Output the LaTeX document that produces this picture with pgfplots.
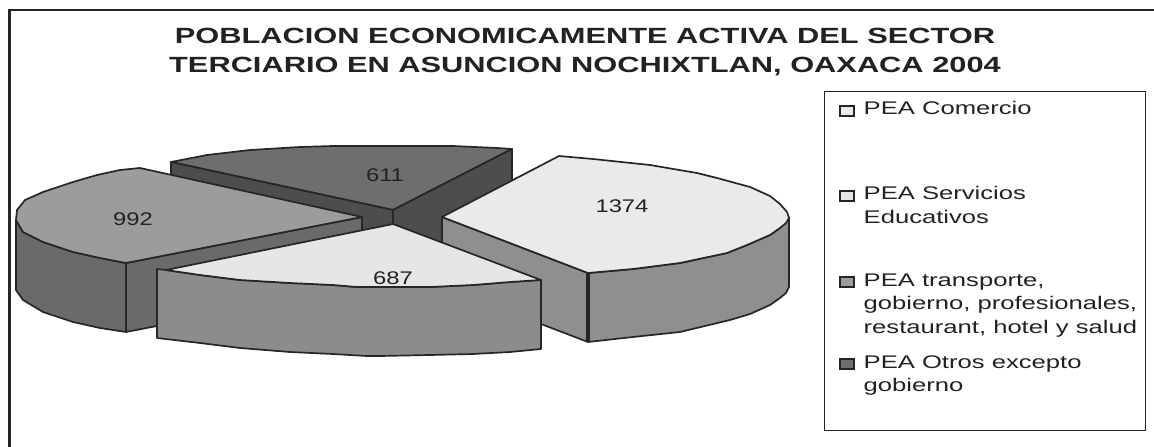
\documentclass[border=0pt]{standalone}
\usepackage{fontspec}
\setmainfont{Liberation Sans}
\newfontfamily\titlefont[FakeStretch=1.4]{Liberation Sans}
\newfontfamily\legfont[FakeStretch=1.4]{Liberation Sans}
\newfontfamily\labfont[FakeStretch=1.3]{Liberation Sans}
\usepackage{pgfplots}
\pgfplotsset{compat=1.18}

\definecolor{edge}{HTML}{262626}
\definecolor{txt}{HTML}{222222}
\definecolor{comtop}{HTML}{EAEAEA}
\definecolor{comwall}{HTML}{8F8F8F}
\definecolor{edutop}{HTML}{E6E6E6}
\definecolor{eduwall}{HTML}{8C8C8C}
\definecolor{tratop}{HTML}{9C9C9C}
\definecolor{trawall}{HTML}{6A6A6A}
\definecolor{otrtop}{HTML}{6E6E6E}
\definecolor{otrwall}{HTML}{4D4D4D}

\pgfplotsset{
  face/.style={draw=edge,line width=1.7bp,line join=round,fill=#1,forget plot},
  swatch/.style={legend image code/.code={
    \draw[draw=edge,line width=1.6bp,fill=#1] (0bp,-1bp) rectangle (14bp,9bp);
    \path (21bp,0bp);}},
}
\newcommand{\legrow}[2]{\parbox[t][#1][t]{265bp}{\raggedright\baselineskip=23.6bp #2}}

\begin{document}
\begin{tikzpicture}
\useasboundingbox (0,0) rectangle (1154bp,447bp);
\begin{axis}[
  scale only axis,
  width=1154bp, height=447bp,
  xmin=0, xmax=1154, ymin=0, ymax=447,
  y dir=reverse,
  hide axis,
  legend style={
    at={(axis cs:824,91)}, anchor=north west,
    draw=edge, line width=0.9bp, fill=white,
    inner xsep=15bp, inner ysep=8bp,
    text=txt,
    font=\legfont\fontsize{18.3bp}{23.6bp}\selectfont,
    cells={anchor=base west},
    nodes={inner sep=2bp,text depth=},
  },
]
% outer frame, open at the bottom and on the right
\addplot[draw=edge,line width=2.2bp,forget plot] coordinates {(9.5,447) (9.5,10) (1154,10)};

% 611, back slice
\addplot[face=otrtop] coordinates {
  (171,162) (207,155) (250,150) (300,147) (333,146) (380,146) (453,146) (497,148) (512,149) (393,210)
} -- cycle;
\addplot[face=otrwall] coordinates {(393,210) (171,162) (171,231) (393,279)} -- cycle;
\addplot[face=otrwall] coordinates {(393,210) (512,149) (512,218) (393,279)} -- cycle;

% 1374, right slice
\addplot[face=comwall] coordinates {(442,217) (588,273) (588,342) (442,286)} -- cycle;
\addplot[face=comwall] coordinates {
  (588,273) (633,269) (680,263) (727,253) (747,245) (770,235) (780,228) (789,218)
  (789,287) (786,293) (780,298) (770,305) (750,314) (730,320) (680,332) (633,337) (588,342)
} -- cycle;
\addplot[face=comtop] coordinates {
  (442,217) (559,156) (593,159) (650,165) (697,173) (717,178) (750,187) (770,196) (780,204) (787,212) (789,218)
  (786,223) (780,228) (770,235) (747,245) (727,253) (680,263) (633,269) (588,273)
} -- cycle;
\addplot[draw=edge,line width=3.2bp,forget plot] coordinates {(588,273) (588,342)};

% 992, left slice
\addplot[face=trawall] coordinates {(126,263) (362,217) (362,286) (126,332)} -- cycle;
\addplot[face=trawall] coordinates {
  (16,220) (23,232) (43,242) (73,252) (100,258) (126,263)
  (126,332) (100,328) (73,322) (43,312) (23,300) (16,290)
} -- cycle;
\addplot[face=tratop] coordinates {
  (362,217) (140,168) (120,170) (97,175) (73,182) (43,192) (25,200) (17,210) (16,220)
  (23,232) (43,242) (73,252) (100,258) (126,263)
} -- cycle;

% 687, front slice
\addplot[face=eduwall] coordinates {
  (157,269) (166,270) (200,275) (240,280) (290,283) (333,285) (357,287) (380,287) (430,287) (473,285) (510,282) (541,280)
  (541,349) (510,352) (473,354) (430,355) (380,356) (367,356) (333,354) (290,352) (240,348) (200,343) (157,338)
} -- cycle;
\addplot[face=edutop] coordinates {
  (393,224) (166,270) (200,275) (240,280) (290,283) (333,285) (357,287) (380,287) (430,287) (473,285) (510,282) (541,280)
} -- cycle;

% data labels
\addplot[draw=none,forget plot,point meta=explicit symbolic,
  nodes near coords,
  every node near coord/.style={anchor=center,text=txt,inner sep=0pt,font=\labfont\fontsize{18.3bp}{23bp}\selectfont}]
  coordinates {(622,206) [1374] (133,219) [992] (393,278) [687] (385,175) [611]};

\node[font=\titlefont\bfseries\fontsize{22bp}{29bp}\selectfont,text=txt,align=center,anchor=center]
  at (axis cs:585,52) {POBLACION ECONOMICAMENTE ACTIVA DEL SECTOR\\TERCIARIO EN ASUNCION NOCHIXTLAN, OAXACA 2004};

% legend
\addlegendimage{swatch=comtop}
\addlegendentry{\legrow{81bp}{PEA Comercio}}
\addlegendimage{swatch=edutop}
\addlegendentry{\legrow{83bp}{PEA Servicios\\Educativos}}
\addlegendimage{swatch=tratop}
\addlegendentry{\legrow{78bp}{PEA transporte,\\\mbox{gobierno, profesionales,}\\\mbox{restaurant, hotel y salud}}}
\addlegendimage{swatch=otrtop}
\addlegendentry{\legrow{65bp}{PEA Otros excepto\\gobierno}}
\end{axis}
\end{tikzpicture}
\end{document}
